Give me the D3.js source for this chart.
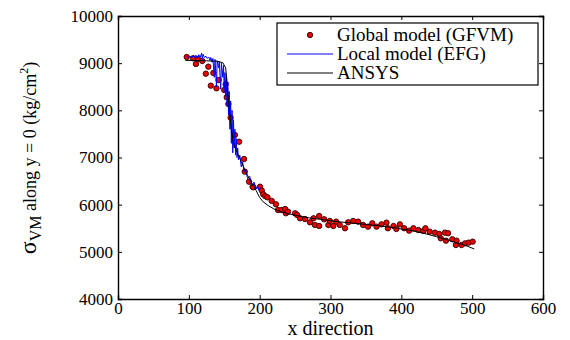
<!DOCTYPE html>
<html>
<head>
<meta charset="utf-8">
<script src="https://cdn.jsdelivr.net/npm/d3@7"></script>
<style>
body{margin:0;background:#fff;}
svg text{font-family:"Liberation Serif","Times New Roman",serif;fill:#000;}
</style>
</head>
<body>
<div id="viz"></div>
<script>
// Global model (GFVM) points [x, sigma]
var gfvmX = [97,106,110,112.5,119,124,127.5,131,134.6,139,142,150,152,153.5,155.8,159,165,171,178,179,185,190,191,200.5,203,205,208,211,217,223,226,231,236,237,240,250,253,257,264,271,276,278,284,284,291,297,299,304,308,313,320.5,325,332,339,346,353,359,365,372,379,381,389,393,398,404,411,417,424,431,434,440,447.5,453.6,455.6,461.6,463,466,472,477,478,485,490,495,500.7];
var gfvmY = [9130,9103,8982,9088,9046,8777,8925,8523,8792,8467,8643,8431,8552,8276,8134,7845,7477,7335,6968,6700,6487,6381,6368,6381,6300,6220,6180,6156,6080,6008,5887,5887,5908,5817,5852,5817,5781,5711,5696,5626,5711,5570,5548,5760,5690,5570,5655,5548,5640,5570,5500,5626,5654,5640,5570,5534,5605,5534,5583,5619,5500,5548,5485,5583,5500,5449,5500,5463,5442,5500,5428,5407,5378,5287,5407,5237,5395,5266,5145,5237,5145,5180,5195,5216];

// Local model (EFG) trace
var efgX = [97,100,102,104,106,108,110,112,114,116,118,119,120,122,124,126,128,130,131,133,134,136,137,139,140,142,143,145,146,148,149,150,151,152,153,154,155,156,157,158,159,160,161,162,163,164,165,166,167,168,169,170,172,174,176,178,180,183,186,189,192,195,197,199];
var efgY = [9140,9120,9150,9110,9160,9120,9170,9100,9180,9120,9210,9080,9190,9120,9150,9100,9130,9060,9120,9020,9100,8700,9080,8500,9050,8900,9040,8450,9000,8700,8950,8400,8800,8300,8700,8100,8600,7900,8400,7600,8200,7300,8000,7100,7800,7200,7600,7050,7400,7000,7200,6950,7050,6800,6900,6700,6750,6550,6600,6400,6480,6330,6400,6300];

// ANSYS curve
var ansysX = [95,110,125,140,148,152,154,156,158,160,163,167,172,177,183,189,195,200,205,212,220,230,240,255,270,290,310,330,350,370,390,410,430,450,470,490,503];
var ansysY = [9060,9055,9050,9040,9010,8900,8600,8200,7900,7600,7300,7150,6980,6810,6620,6450,6300,6150,6060,5980,5910,5850,5810,5760,5720,5680,5640,5610,5580,5550,5510,5460,5400,5320,5230,5140,5060];

var xTicks = [0,100,200,300,400,500,600];
var yTicks = [4000,5000,6000,7000,8000,9000,10000];
var legendLabels = ["Global model (GFVM)","Local model (EFG)","ANSYS"];

(function(){
	var W = 570, H = 340;
	var mLeft = 118, mRight = 543, mTop = 16, mBottom = 299;

	var svg = d3.select("#viz").append("svg").attr("width",W).attr("height",H);

	var x = d3.scaleLinear().domain([0,600]).range([mLeft,mRight]);
	var y = d3.scaleLinear().domain([4000,10000]).range([mBottom,mTop]);

	var zip = function(a,b){ return a.map(function(v,i){ return [v,b[i]]; }); };
	var line = d3.line().x(function(d){return x(d[0]);}).y(function(d){return y(d[1]);});

	// data
	svg.append("g").selectAll("circle")
		.data(zip(gfvmX,gfvmY))
		.enter().append("circle")
		.attr("cx",function(d){return x(d[0]);})
		.attr("cy",function(d){return y(d[1]);})
		.attr("r",2.7)
		.style("fill","#f00000")
		.style("stroke","#300")
		.style("stroke-width",0.9);

	svg.append("path").datum(zip(efgX,efgY))
		.attr("d",line).style("fill","none").style("stroke","#0000ff").style("stroke-width",1);

	svg.append("path").datum(zip(ansysX,ansysY))
		.attr("d",line).style("fill","none").style("stroke","#000").style("stroke-width",1);

	// axes with inward ticks
	var tk = 4;
	var axes = svg.append("g");
	var bx = d3.axisBottom(x).tickValues(xTicks).tickSize(-tk).tickPadding(3);
	var tx = d3.axisTop(x).tickValues(xTicks).tickSize(-tk).tickFormat("");
	var ly = d3.axisLeft(y).tickValues(yTicks).tickSize(-tk).tickPadding(5).tickFormat(d3.format("d"));
	var ry = d3.axisRight(y).tickValues(yTicks).tickSize(-tk).tickFormat("");

	[[bx,"translate(0,"+mBottom+")"],[tx,"translate(0,"+mTop+")"],[ly,"translate("+mLeft+",0)"],[ry,"translate("+mRight+",0)"]].forEach(function(a){
		var g = axes.append("g").attr("transform",a[1]).call(a[0]);
		g.selectAll("text").style("font-family","Liberation Serif").style("font-size","17px").style("fill","#000");
		g.select(".domain").style("stroke","#000").style("stroke-width",1.4);
		g.selectAll(".tick line").style("stroke","#000");
	});

	// axis labels
	svg.append("text")
		.attr("x",(mLeft+mRight)/2)
		.attr("y",335)
		.attr("text-anchor","middle")
		.style("font-size","20px")
		.text("x direction");

	var yl = svg.append("text")
		.attr("transform","translate(36,158) rotate(-90)")
		.attr("text-anchor","middle")
		.style("font-size","18px");
	yl.append("tspan").style("font-size","24px").text("σ");
	yl.append("tspan").attr("dy",5).style("font-size","16px").text("VM");
	yl.append("tspan").attr("dy",-5).text(" along y = 0 (kg/cm");
	yl.append("tspan").attr("dy",-8).style("font-size","12px").text("2");
	yl.append("tspan").attr("dy",8).text(")");

	// legend
	var leg = svg.append("g");
	leg.append("rect")
		.attr("x",277).attr("y",23).attr("width",261).attr("height",62)
		.style("fill","#fff").style("stroke","#000").style("stroke-width",1.2);
	var rowY = [35,54,73];
	leg.append("circle").attr("cx",310).attr("cy",rowY[0]).attr("r",2.7)
		.style("fill","#f00000").style("stroke","#300").style("stroke-width",0.9);
	leg.append("line").attr("x1",287).attr("x2",333).attr("y1",rowY[1]).attr("y2",rowY[1])
		.style("stroke","#0000ff").style("stroke-width",1);
	leg.append("line").attr("x1",287).attr("x2",333).attr("y1",rowY[2]).attr("y2",rowY[2])
		.style("stroke","#000").style("stroke-width",1);
	leg.selectAll(".lt").data(legendLabels).enter().append("text")
		.attr("class","lt")
		.attr("x",337)
		.attr("y",function(d,i){return rowY[i]+6;})
		.style("font-size","19px")
		.text(function(d){return d;});
})();
</script>
</body>
</html>
